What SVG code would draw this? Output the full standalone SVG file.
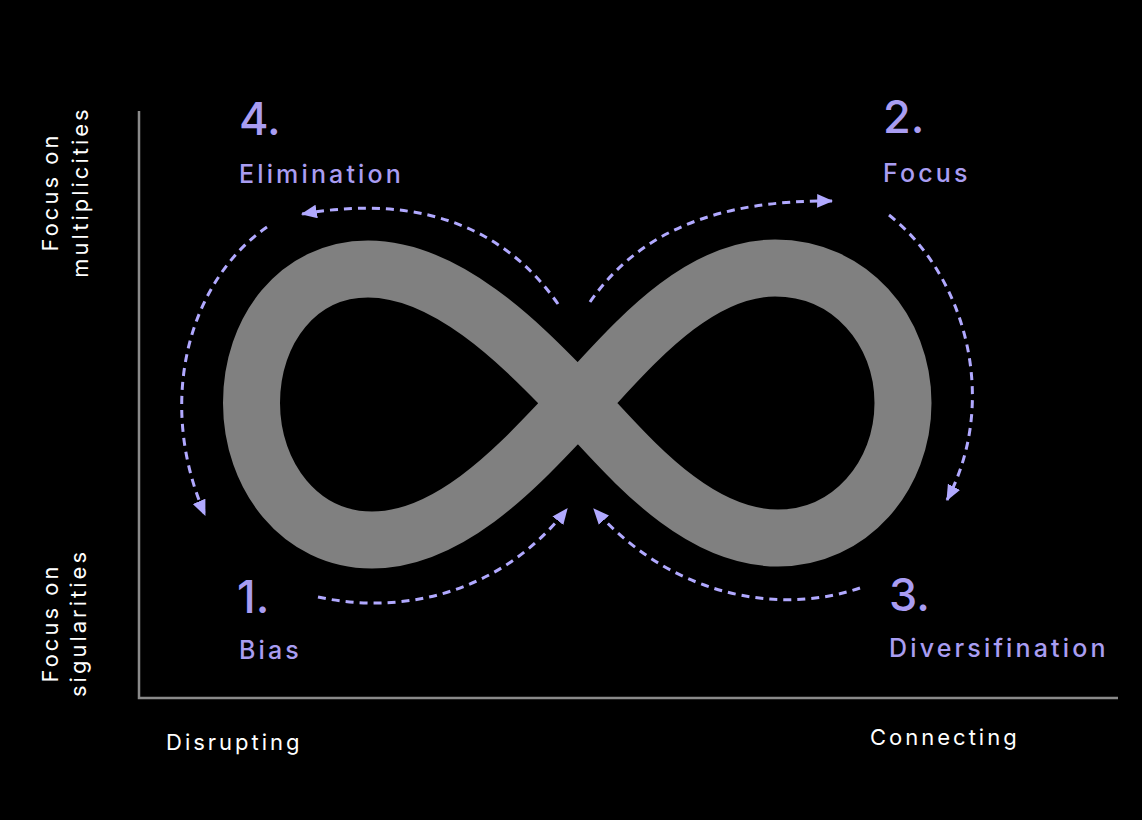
<svg xmlns="http://www.w3.org/2000/svg" width="1142" height="820" viewBox="0 0 1142 820">
  <style>
    .axis { stroke: #8a8a8a; stroke-width: 2.5; fill: none; }
    .axlabel { font-family: Inter, "Liberation Sans", sans-serif; font-size: 22px; fill: #ffffff; letter-spacing: 3px; }
    .num { font-family: Inter, "Liberation Sans", sans-serif; font-size: 45px; font-weight: 500; fill: #a99df2; }
    .lbl { font-family: Inter, "Liberation Sans", sans-serif; font-size: 25px; font-weight: 500; fill: #a99df2; letter-spacing: 3.15px; }
    .flow { fill: none; stroke: #b1a9ff; stroke-width: 3; stroke-dasharray: 8 6; marker-end: url(#ah); }
  </style>
  <defs>
    <marker id="ah" viewBox="0 0 14 12" refX="13" refY="6" markerWidth="16" markerHeight="14" orient="auto" markerUnits="userSpaceOnUse">
      <path d="M0,0 L14,6 L0,12 Z" fill="#b1a9ff"/>
    </marker>
  </defs>
  <rect x="0" y="0" width="1142" height="820" fill="#000000"/>

  <g id="axes">
    <path class="axis" d="M139 111 L139 698 L1118 698"/>
    <text class="axlabel" x="166" y="750">Disrupting</text>
    <text class="axlabel" x="870" y="745">Connecting</text>
    <text class="axlabel" transform="translate(58,192) rotate(-90)" text-anchor="middle">Focus on</text>
    <text class="axlabel" transform="translate(88,192) rotate(-90)" text-anchor="middle">multiplicities</text>
    <text class="axlabel" transform="translate(58,623) rotate(-90)" text-anchor="middle">Focus on</text>
    <text class="axlabel" transform="translate(86,623) rotate(-90)" text-anchor="middle">sigularities</text>
  </g>

  <g id="infinity">
    <path d="M578 403 C620 361 690 268 775 268 C850 268 903 330 903 403 C903 476 850 538 778 538 C690 538 620 445 578 403 C536 361 455 269 368 269 C298 269 251.5 330 251.5 403 C251.5 476 300 540 372 540 C460 540 536 445 578 403 Z" fill="none" stroke="#808080" stroke-width="57" stroke-linejoin="round"/>
  </g>

  <g id="step-4">
    <text class="num" x="239" y="135">4.</text>
    <text class="lbl" x="239" y="183">Elimination</text>
  </g>
  <g id="step-2">
    <text class="num" x="883" y="133">2.</text>
    <text class="lbl" x="883" y="182">Focus</text>
  </g>
  <g id="step-1">
    <text class="num" x="237" y="613">1.</text>
    <text class="lbl" x="239" y="659">Bias</text>
  </g>
  <g id="step-3">
    <text class="num" x="889" y="611">3.</text>
    <text class="lbl" x="889" y="657">Diversifination</text>
  </g>

  <g id="connectors">
    <path class="flow" d="M558 304 C510 235 430 192 302 214"/>
    <path class="flow" d="M590 302 C640 230 720 200 832 201"/>
    <path class="flow" d="M889 215 C965 275 1000 400 947 500"/>
    <path class="flow" d="M860 588 C790 612 680 605 594 509"/>
    <path class="flow" d="M318 597 C400 615 500 595 567 509"/>
    <path class="flow" d="M267 227 C190 280 155 400 205 515"/>
  </g>
</svg>
